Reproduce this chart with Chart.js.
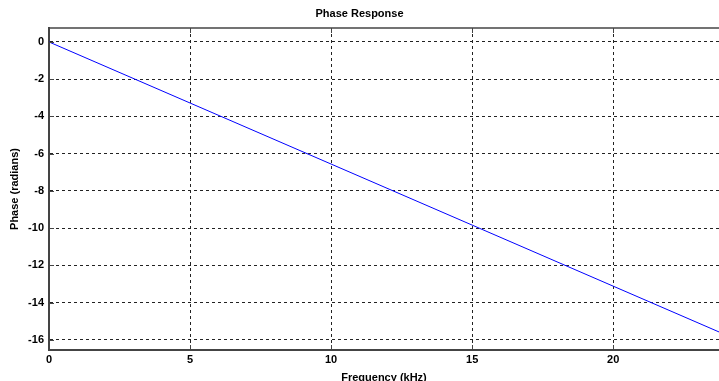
<!DOCTYPE html>
<html>
<head>
<meta charset="utf-8">
<script src="https://cdn.jsdelivr.net/npm/chart.js@4/dist/chart.umd.min.js"></script>
<style>
  html, body { margin: 0; padding: 0; background: #fff; }
  #wrap { width: 719px; height: 381px; }
</style>
</head>
<body>
<div id="wrap"><canvas id="phaseChart" width="719" height="381"></canvas></div>
<script>
// datos
const freqKHz = [0, 5, 10, 15, 20, 23.75];
const phaseRad = [0, -3.28, -6.56, -9.84, -13.12, -15.58];
const xTicks = [0, 5, 10, 15, 20];
const yTicks = [0, -2, -4, -6, -8, -10, -12, -14, -16];

const puntos = freqKHz.map(function (f, i) { return { x: f, y: phaseRad[i] }; });

// marco superior y marcas de ticks hacia dentro
const marcoSuperior = {
    id: 'marcoSuperior',
    afterDraw: function (chart) {
        const a = chart.chartArea;
        const ctx = chart.ctx;
        const sx = chart.scales.x;
        const sy = chart.scales.y;
        ctx.save();
        ctx.strokeStyle = '#444';
        ctx.lineWidth = 1.5;
        ctx.beginPath();
        ctx.moveTo(a.left, a.top);
        ctx.lineTo(a.right + 2, a.top);
        ctx.stroke();
        ctx.lineWidth = 1;
        ctx.beginPath();
        xTicks.forEach(function (v) {
            const px = Math.round(sx.getPixelForValue(v)) + 0.5;
            ctx.moveTo(px, a.bottom);
            ctx.lineTo(px, a.bottom - 5);
            ctx.moveTo(px, a.top);
            ctx.lineTo(px, a.top + 5);
        });
        yTicks.forEach(function (v) {
            const py = Math.round(sy.getPixelForValue(v)) + 0.5;
            ctx.moveTo(a.left, py);
            ctx.lineTo(a.left + 5, py);
        });
        ctx.stroke();
        ctx.restore();
    }
};

const fuente = { family: 'Liberation Sans, Arial, sans-serif', size: 11, weight: 'bold' };

new Chart(document.getElementById('phaseChart').getContext('2d'), {
    type: 'line',
    data: {
        datasets: [{
            data: puntos,
            borderColor: '#0000ff',
            borderWidth: 1,
            pointRadius: 0,
            tension: 0
        }]
    },
    options: {
        responsive: false,
        animation: false,
        layout: { padding: { top: 0, right: 0, bottom: 0, left: 0 } },
        plugins: {
            legend: { display: false },
            tooltip: { enabled: false },
            title: {
                display: true,
                text: 'Phase Response',
                color: '#000',
                font: fuente,
                padding: { top: 7, bottom: 7.8 }
            }
        },
        scales: {
            x: {
                type: 'linear',
                min: 0,
                max: 23.75,
                afterFit: function (s) { s.height = 31; },
                afterBuildTicks: function (s) { s.ticks = xTicks.map(function (v) { return { value: v }; }); },
                ticks: { color: '#000', font: fuente, padding: 3, maxRotation: 0 },
                grid: { color: '#222', drawTicks: false, lineWidth: 1 },
                border: { color: '#444', width: 2, dash: [3, 3] },
                title: {
                    display: true,
                    text: 'Frequency (kHz)',
                    color: '#000',
                    font: fuente,
                    padding: { top: 0, bottom: -3.5 }
                }
            },
            y: {
                type: 'linear',
                min: -16.55,
                max: 0.75,
                afterFit: function (s) { s.width = 49; },
                afterBuildTicks: function (s) { s.ticks = yTicks.map(function (v) { return { value: v }; }); },
                ticks: { color: '#000', font: fuente, padding: 5 },
                grid: { color: '#222', drawTicks: false, lineWidth: 1 },
                border: { color: '#444', width: 2, dash: [3, 3] },
                title: {
                    display: true,
                    text: 'Phase (radians)',
                    color: '#000',
                    font: fuente,
                    padding: { top: 8, bottom: 0 }
                }
            }
        }
    },
    plugins: [marcoSuperior]
});
</script>
</body>
</html>
